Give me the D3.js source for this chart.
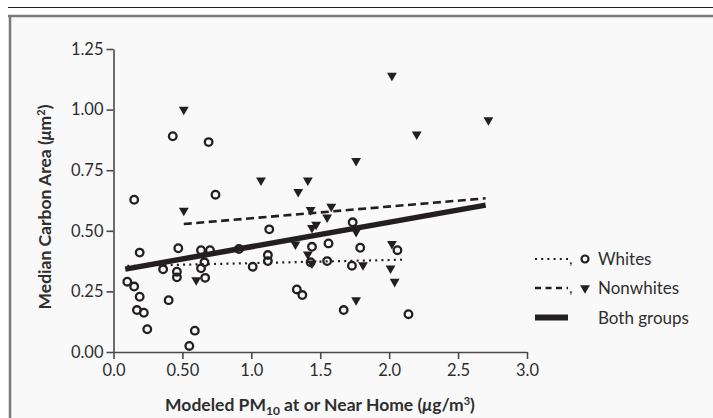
<!DOCTYPE html>
<html><head><meta charset="utf-8">
<script src="https://cdn.jsdelivr.net/npm/d3@7"></script>
<style>
html,body{margin:0;padding:0;background:#fff;}
svg{display:block;font-family:Lato,"Open Sans",sans-serif;}
</style></head>
<body>
<script>
// Whites (open circles): [PM10, carbon area]
const whites = [
 [0.43,0.89],[0.69,0.866],[0.74,0.649],[0.15,0.628],[1.13,0.506],[0.19,0.41],
 [0.47,0.428],[0.635,0.42],[0.70,0.42],[0.91,0.425],[1.12,0.40],[1.12,0.375],
 [1.01,0.352],[0.36,0.341],[0.46,0.331],[0.46,0.308],[0.66,0.37],[0.635,0.345],
 [0.665,0.306],[0.10,0.29],[0.15,0.27],[0.19,0.228],[0.40,0.214],[0.17,0.173],
 [0.22,0.162],[0.245,0.094],[0.59,0.088],[0.55,0.025],[1.44,0.434],[1.56,0.448],
 [1.79,0.43],[1.43,0.37],[1.55,0.375],[1.73,0.356],[1.735,0.535],[1.33,0.258],
 [1.37,0.235],[2.06,0.42],[1.67,0.173],[2.14,0.156]
];
// Nonwhites (filled triangles)
const nonwhites = [
 [0.51,1.00],[0.51,0.583],[1.07,0.708],[1.41,0.708],[1.34,0.661],[1.43,0.586],
 [1.58,0.60],[1.55,0.556],[1.44,0.512],[1.47,0.526],[2.02,1.14],[2.72,0.957],
 [2.20,0.898],[1.76,0.789],[1.76,0.496],[1.32,0.444],[1.41,0.403],[1.44,0.366],
 [1.81,0.359],[2.02,0.446],[2.01,0.345],[2.04,0.29],[1.76,0.214],[0.60,0.297]
];
// Fitted lines (endpoints)
const fitWhites = [[0.10,0.355],[2.12,0.381]];
const fitNonwhites = [[0.51,0.528],[2.70,0.634]];
const fitBoth = [[0.085,0.342],[2.70,0.606]];

const xTicks = [0,0.5,1,1.5,2,2.5,3];
const xTickLabels = ["0.0","0.50","1.0","1.5","2.0","2.5","3.0"];
const yTicks = [0,0.25,0.5,0.75,1,1.25];
const yTickLabels = ["0.00","0.25","0.50","0.75","1.00","1.25"];

const W = 713, H = 418;
const ink = "#231f20", axisCol = "#4a4a4a", textCol = "#2e2e2e";

const svg = d3.select("body").append("svg").attr("width",W).attr("height",H);

// frame
svg.append("rect").attr("x",9).attr("y",16).attr("width",W-9).attr("height",H-16).attr("fill","#f9f9f9");
svg.append("line").attr("x1",8).attr("x2",W).attr("y1",7.5).attr("y2",7.5).attr("stroke","#222").attr("stroke-width",1.2);
svg.append("line").attr("x1",8).attr("x2",W).attr("y1",16).attr("y2",16).attr("stroke","#7a7a7a").attr("stroke-width",2.5);
svg.append("line").attr("x1",10).attr("x2",10).attr("y1",15).attr("y2",H).attr("stroke","#7a7a7a").attr("stroke-width",2.5);

const x = d3.scaleLinear().domain([0,3]).range([113.5,527]);
const y = d3.scaleLinear().domain([0,1.25]).range([352,49]);

// axes
const gx = svg.append("g").attr("transform",`translate(0,${y(0)})`)
  .call(d3.axisBottom(x).tickValues(xTicks).tickFormat((d,i)=>xTickLabels[i]).tickSize(7).tickSizeOuter(0).tickPadding(5));
const gy = svg.append("g").attr("transform",`translate(${x(0)},0)`)
  .call(d3.axisLeft(y).tickValues(yTicks).tickFormat((d,i)=>yTickLabels[i]).tickSize(7).tickSizeOuter(0).tickPadding(3));
[gx,gy].forEach(g=>{
  g.select(".domain").attr("stroke",axisCol).attr("stroke-width",1.6);
  g.selectAll(".tick line").attr("stroke",axisCol).attr("stroke-width",1.6);
  g.selectAll(".tick text").attr("fill",textCol).attr("font-size",16.5).attr("font-family","Lato");
});

// fit lines
const line = d3.line().x(d=>x(d[0])).y(d=>y(d[1]));
svg.append("path").attr("d",line(fitWhites)).attr("fill","none").attr("stroke",ink)
  .attr("stroke-width",2.2).attr("stroke-dasharray","2,4.2");
svg.append("path").attr("d",line(fitNonwhites)).attr("fill","none").attr("stroke",ink)
  .attr("stroke-width",2.6).attr("stroke-dasharray","8,4.5");

// points
const tri = d3.symbol().type(d3.symbolTriangle).size(42);
svg.append("g").selectAll("path").data(nonwhites).join("path")
  .attr("d",tri).attr("transform",d=>`translate(${x(d[0])},${y(d[1])}) rotate(180)`)
  .attr("fill",ink);
svg.append("g").selectAll("circle").data(whites).join("circle")
  .attr("cx",d=>x(d[0])).attr("cy",d=>y(d[1])).attr("r",3.8)
  .attr("fill","none").attr("stroke",ink).attr("stroke-width",2.3);

svg.append("path").attr("d",line(fitBoth)).attr("fill","none").attr("stroke",ink)
  .attr("stroke-width",5.5);

// axis titles
const xt = svg.append("text").attr("x",320).attr("y",411).attr("text-anchor","middle")
  .attr("font-size",17.5).attr("font-weight","bold").attr("fill",textCol);
xt.append("tspan").text("Modeled PM");
xt.append("tspan").attr("font-size",12).attr("dy",4).text("10");
xt.append("tspan").attr("dy",-4).text(" at or Near Home (");
xt.append("tspan").attr("font-style","italic").text("μ");
xt.append("tspan").text("g/m");
xt.append("tspan").attr("font-size",11).attr("dy",-6).text("3");
xt.append("tspan").attr("dy",6).text(")");

const yt = svg.append("text").attr("transform","translate(51,207) rotate(-90)").attr("text-anchor","middle")
  .attr("font-size",17.5).attr("font-weight","bold").attr("fill",textCol);
yt.append("tspan").text("Median Carbon Area (");
yt.append("tspan").attr("font-style","italic").text("μ");
yt.append("tspan").text("m");
yt.append("tspan").attr("font-size",11).attr("dy",-6).text("2");
yt.append("tspan").attr("dy",6).text(")");

// legend
const legend = [
  {label:"Whites", type:"dot", yy:259},
  {label:"Nonwhites", type:"dash", yy:288},
  {label:"Both groups", type:"solid", yy:317.5}
];
const lg = svg.append("g");
legend.forEach(l=>{
  const ln = lg.append("line").attr("x1",535).attr("x2",568).attr("y1",l.yy).attr("y2",l.yy).attr("stroke",ink);
  if(l.type==="dot") ln.attr("stroke-width",2.2).attr("stroke-dasharray","2,4.2");
  if(l.type==="dash") ln.attr("stroke-width",2.6).attr("stroke-dasharray","6,4.5");
  if(l.type==="solid") ln.attr("stroke-width",6);
  if(l.type!=="solid"){
    lg.append("text").attr("x",569).attr("y",l.yy+5).attr("font-size",16).attr("fill",textCol).text(",");
  }
  if(l.type==="dot") lg.append("circle").attr("cx",585).attr("cy",l.yy).attr("r",3.5).attr("fill","none").attr("stroke",ink).attr("stroke-width",2.2);
  if(l.type==="dash") lg.append("path").attr("d",tri).attr("transform",`translate(585,${l.yy}) rotate(180)`).attr("fill",ink);
  lg.append("text").attr("x",598).attr("y",l.yy+6).attr("font-size",17).attr("fill",textCol).text(l.label);
});
</script>
</body></html>
